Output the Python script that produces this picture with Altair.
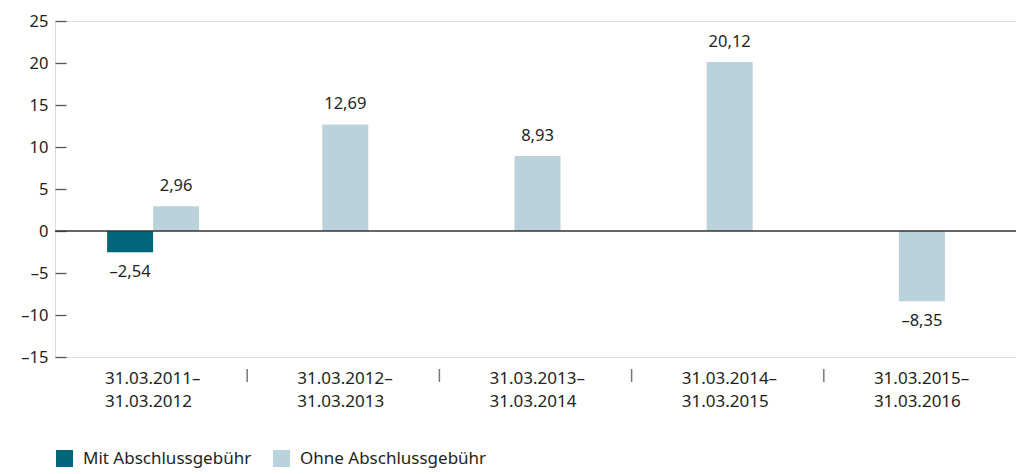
import altair as alt
import pandas as pd

periods = [
    "31.03.2011–31.03.2012",
    "31.03.2012–31.03.2013",
    "31.03.2013–31.03.2014",
    "31.03.2014–31.03.2015",
    "31.03.2015–31.03.2016",
]
series_names = ["Mit Abschlussgebühr", "Ohne Abschlussgebühr"]
mit_values = [-2.54, None, None, None, None]
ohne_values = [2.96, 12.69, 8.93, 20.12, -8.35]
colors = ["#00647a", "#b9d2dc"]
y_ticks = [-15, -10, -5, 0, 5, 10, 15, 20, 25]

FONT = "Noto Sans"
TXT = "#231f20"
FS = 16.5

rows = []
for i, p in enumerate(periods):
    vals = [(series_names[0], mit_values[i]), (series_names[1], ohne_values[i])]
    present = [(s, v) for s, v in vals if v is not None]
    n = len(present)
    for k, (s, v) in enumerate(present):
        rows.append({"period": p, "series": s, "value": v, "off": k - (n - 1) / 2})
df = pd.DataFrame(rows)

W, H = 961, 336
BAND = W / len(periods)
BAR = 46

x_enc = alt.X(
    "period:N",
    sort=periods,
    scale=alt.Scale(paddingInner=0, paddingOuter=0),
    axis=alt.Axis(
        domain=False, ticks=False, labelAlign="left", labelOffset=-46,
        labelBaseline="top", labelPadding=13, labelLineHeight=23,
        labelExpr="[slice(datum.label,0,11), slice(datum.label,11)]",
        labelFontSize=17, labelAngle=0, labelColor=TXT, labelFont=FONT,
    ),
    title=None,
)
xoff = alt.XOffset(
    "off:Q",
    scale=alt.Scale(domain=[-0.5, 0.5], range=[BAND / 2 - BAR / 2 + 2, BAND / 2 + BAR / 2 + 2]),
)
y_enc = alt.Y(
    "value:Q",
    scale=alt.Scale(domain=[-15, 25], nice=False, zero=False),
    axis=alt.Axis(
        values=y_ticks,
        labelExpr="datum.value < 0 ? '–' + abs(datum.value) : '' + datum.value",
        tickSize=11, offset=-11, domain=False, grid=False, labelPadding=7,
        tickColor="#555555", tickWidth=1.3, labelFontSize=FS, labelColor=TXT,
        labelFont=FONT,
    ),
    title=None,
)

base = alt.Chart(df)

bars = base.mark_bar(size=BAR).encode(
    x=x_enc,
    xOffset=xoff,
    y=y_enc,
    color=alt.Color(
        "series:N",
        scale=alt.Scale(domain=series_names, range=colors),
        legend=alt.Legend(
            orient="none", legendX=1, legendY=429, direction="horizontal",
            title=None, symbolType="square", symbolSize=289, symbolStrokeWidth=0,
            symbolOpacity=1, labelFontSize=17, labelFont=FONT, labelColor=TXT,
            columnPadding=21, labelOffset=10, labelLimit=400,
        ),
    ),
)

label_calc = "(datum.value < 0 ? '–' : '') + replace(format(abs(datum.value), '.2f'), '.', ',')"

pos_text = base.transform_filter("datum.value >= 0").transform_calculate(
    label=label_calc
).mark_text(dy=-20, baseline="middle", fontSize=FS, font=FONT, color=TXT).encode(
    x=alt.X("period:N", sort=periods), xOffset=xoff, y="value:Q", text="label:N"
)
neg_text = base.transform_filter("datum.value < 0").transform_calculate(
    label=label_calc
).mark_text(dy=20, baseline="middle", fontSize=FS, font=FONT, color=TXT).encode(
    x=alt.X("period:N", sort=periods), xOffset=xoff, y="value:Q", text="label:N"
)

zero_rule = alt.Chart(pd.DataFrame({"value": [0]})).mark_rule(
    color="#333333", strokeWidth=1.5
).encode(y="value:Q")

sep = alt.Chart(pd.DataFrame({"period": periods[1:]})).mark_rule(
    color="#777777", strokeWidth=1.5
).encode(
    x=alt.X("period:N", sort=periods, bandPosition=0),
    y=alt.value(H + 12),
    y2=alt.value(H + 25),
)

chart = alt.layer(bars, zero_rule, pos_text, neg_text, sep).properties(
    width=W,
    height=H,
    autosize=alt.AutoSizeParams(type="none"),
    padding={"left": 47, "top": 13, "right": 0, "bottom": 112},
).configure_view(stroke=None).configure(font=FONT)

chart.save("out.html", embed_options={"renderer": "svg", "actions": False})
